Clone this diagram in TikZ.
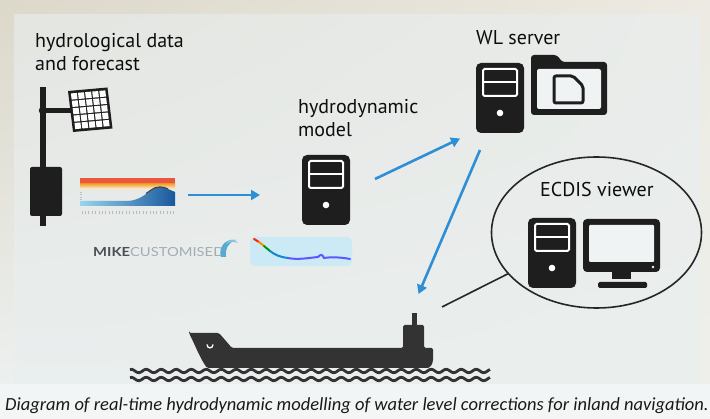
\documentclass[tikz,border=0pt]{standalone}
\usepackage{fontspec}
\setmainfont{PT Sans}
\newfontfamily\capfont{Carlito}
\newfontfamily\logofont{Lato}
\usetikzlibrary{arrows.meta,shapes.geometric,calc,shadings}

\definecolor{icondark}{HTML}{1E1E1E}
\definecolor{shipdark}{HTML}{333333}
\definecolor{flowblue}{HTML}{2E8FD6}
\definecolor{slidebg}{HTML}{E8EEEF}
\definecolor{bgul}{HTML}{DCD8CA}
\definecolor{bgur}{HTML}{ECEAE2}
\definecolor{bgll}{HTML}{EEF2F2}
\definecolor{bglr}{HTML}{EEF0EC}
\definecolor{chartred}{HTML}{E9573F}
\definecolor{chartorange}{HTML}{F4A43A}
\definecolor{chartyellow}{HTML}{F8E07A}
\definecolor{flowlight}{HTML}{96D6EC}
\definecolor{flowdeep}{HTML}{1A589E}
\definecolor{mikegrey}{HTML}{4A4F57}
\definecolor{custgrey}{HTML}{A3ADB4}
\definecolor{logoblue}{HTML}{3A9BC9}

\tikzset{
  icon/.style={fill=icondark},
  flow/.style={draw=flowblue, line width=2.6pt, -{Triangle[length=9pt,width=10pt]}},
  label/.style={inner sep=0pt, text=black!95, font=\fontsize{20}{24}\selectfont},
  wave/.style={draw=shipdark, line width=2.8pt},
  tower/.pic={
    \fill[icondark, rounded corners=5pt] (0,0) rectangle (48,70);
    \draw[white, line width=2pt, rounded corners=1.5pt] (7,6) rectangle (41,33);
    \draw[white, line width=2pt] (7,19.5) -- (41,19.5);
    \fill[white] (24,50) circle (3.3);
  }
}

\begin{document}
\begin{tikzpicture}[x=1pt, y=-1pt]
\useasboundingbox (0,0) rectangle (710,419);

% background of the slide and the caption strip
\shade[upper left=bgul, upper right=bgur, lower left=bgll, lower right=bglr]
  (0,0) rectangle (710,419);
\fill[slidebg, opacity=0.6] (14,14) rectangle (700,392);
\shade[top color=slidebg!60!white, bottom color=white!96!black] (0,385) rectangle (710,419);

% ---- gauging station: pole, solar panel, logger box ----
\fill[icondark] (40,87) rectangle (46,226);
\fill[icondark] (42,108) rectangle (72,113);
\fill[icondark] (43,110.5) circle (4.2);
\fill[icondark, rounded corners=2pt] (30,167) rectangle (62,216);
\begin{scope}[shift={(68,91)}, x={(39.5pt,3.5pt)}, y={(5pt,-41pt)}]
  \fill[icondark] (0,0) -- (1,0) -- (1,1) -- (0,1) -- cycle;
  \foreach \i in {0,...,4}
    \foreach \j in {0,...,4}
      \fill[white] ({0.065+\i*0.18},{0.065+\j*0.18}) -- ++(0.15,0) -- ++(0,0.15) -- ++(-0.15,0) -- cycle;
\end{scope}

\node[label, anchor=base west, align=left] (hydroLbl) at (35,71)
  {hydrological data\\[-1pt]and forecast};

% ---- hydrograph ----
\node[inner sep=0pt, minimum width=95pt, minimum height=37pt, anchor=north west] (chart) at (80,178) {};
\fill[chartred] (80,178) rectangle (175,184);
\shade[top color=chartorange, bottom color=chartyellow!35] (80,184) rectangle (175,189);
\shade[left color=flowlight, right color=flowdeep]
  (80,206) -- (80,201) -- (128,201) .. controls (140,200) and (146,194) .. (151,190)
  .. controls (156,186) and (163,186) .. (168,189) -- (175,192) -- (175,206) -- cycle;
\draw[black!75, line width=1pt] (146,193.5) .. controls (148,192) and (149,191.5) .. (151,190)
  .. controls (156,186) and (163,186) .. (168,189);
\foreach \k in {0,...,27}
  \draw[gray!55, line width=0.9pt] (82+\k*3.4,211) -- ++(0,3.5);
\foreach \k in {0,...,3}
  \draw[gray!50, line width=0.7pt] (80,192+\k*2.5) -- ++(2,0);

% ---- MIKE logo and model result sketch ----
\node[inner sep=0pt, anchor=base west] (mike) at (93,257)
  {\scalebox{1.18}[1]{\logofont\fontsize{12.5}{12.5}\selectfont\textcolor{mikegrey}{\bfseries MIKE}\textcolor{custgrey}{CUSTOMISED}}};
\fill[logoblue!85] (221,257) .. controls (218,248) and (225,238) .. (236,240)
  .. controls (229,242) and (225,248) .. (226,257) -- cycle;
\fill[logoblue!60] (226,244) .. controls (229,239) and (234,238) .. (238,243)
  .. controls (234,241) and (230,242) .. (226,244) -- cycle;

\fill[cyan!25!white, opacity=0.7, rounded corners=5pt] (250,237) rectangle (352,266);
\draw[line width=2pt, line cap=round, red!70!orange] (254,239) -- (259,242);
\draw[line width=2pt, line cap=round, orange!90!yellow] (259,242) -- (264,246);
\draw[line width=2pt, line cap=round, green!60!black] (264,246) -- (270,251);
\draw[line width=2pt, line cap=round, cyan!70!blue] (270,251) .. controls (275,255) and (280,257) .. (288,258);
\draw[line width=2pt, line cap=round, blue!65] (288,258) .. controls (298,260) and (308,258) .. (318,257)
  .. controls (321,254) and (322,254) .. (324,258) .. controls (330,257) and (340,257) .. (350,259);

% ---- hydrodynamic model ----
\node[label, anchor=base west, align=left] (hmLbl) at (298,137)
  {hydrodynamic\\[-1pt]model};
\pic at (302,155) {tower};

% ---- WL server ----
\node[label, anchor=base west] (wlLbl) at (476,45) {WL server};
\pic at (476,63) {tower};
\fill[icondark, rounded corners=3pt] (531,115) -- (531,55) -- (557,55) -- (562,62)
  -- (607,62) -- (607,115) -- cycle;
\fill[slidebg!70!white, rounded corners=2pt] (537,69) rectangle (601,109);
\draw[icondark, line width=3pt, line join=round, rounded corners=2pt]
  (554,76) -- (573,76) -- (583,86) -- (583,103) -- (554,103) -- cycle;

% ---- ECDIS viewer ----
\node[draw=black!85, line width=1.6pt, ellipse, minimum width=210pt, minimum height=151pt,
      inner sep=0pt] (ecdis) at (596.5,232.5) {};
\node[label, anchor=base west] (ecdisLbl) at (540,197) {ECDIS viewer};
\pic at (528,218) {tower};
\fill[icondark, rounded corners=4pt] (583,219) rectangle (660,272);
\fill[slidebg!70!white, rounded corners=1pt] (589,225) rectangle (654,262);
\fill[white] (653,267) circle (1.4);
\fill[icondark] (612,270) rectangle (631,279);
\fill[icondark, rounded corners=1.5pt] (598,282) rectangle (647,288);

% ---- vessel on the waterway ----
\node[inner sep=0pt, minimum width=244pt, minimum height=55pt, anchor=north west] (ship) at (189,313) {};
\fill[shipdark, rounded corners=1.5pt] (189,333) -- (219,333) -- (232,348) -- (403,348)
  -- (403,325) -- (424,325) -- (424,348) -- (433,348) -- (433,358)
  .. controls (433,364) and (430,368) .. (426,368) -- (207,368)
  .. controls (200,358) and (195,345) .. (189,333) -- cycle;
\fill[shipdark] (411.5,313) rectangle (416.5,326);
\draw[white, line width=1.3pt] (207,344.5) .. controls (207,349) and (213,349) .. (213,344.5);
\foreach \yy in {371,379}
  \draw[wave] plot[domain=130:490, samples=240] (\x, {\yy + 1.7*sin(24*\x)});

% ---- data flow ----
\coordinate (chartOut) at (188,195);
\coordinate (modelIn) at (260,195);
\coordinate (modelOut) at (375,179);
\coordinate (serverIn) at (460,138.5);
\coordinate (serverOut) at (480,150);
\coordinate (shipIn) at (418.5,294);
\coordinate (shipLink) at (442,307);
\draw[flow] (chartOut) -- (modelIn);
\draw[flow] (modelOut) -- (serverIn);
\draw[flow] (serverOut) -- (shipIn);
\draw[black!85, line width=1.6pt] (ecdis.205) -- (shipLink);

% ---- caption ----
\node[inner sep=0pt, anchor=base west, text=black!90] (caption) at (5,411)
  {\capfont\itshape\fontsize{18.5}{20}\selectfont Diagram of real-time hydrodynamic modelling of water level corrections for inland navigation.};
\end{tikzpicture}
\end{document}
